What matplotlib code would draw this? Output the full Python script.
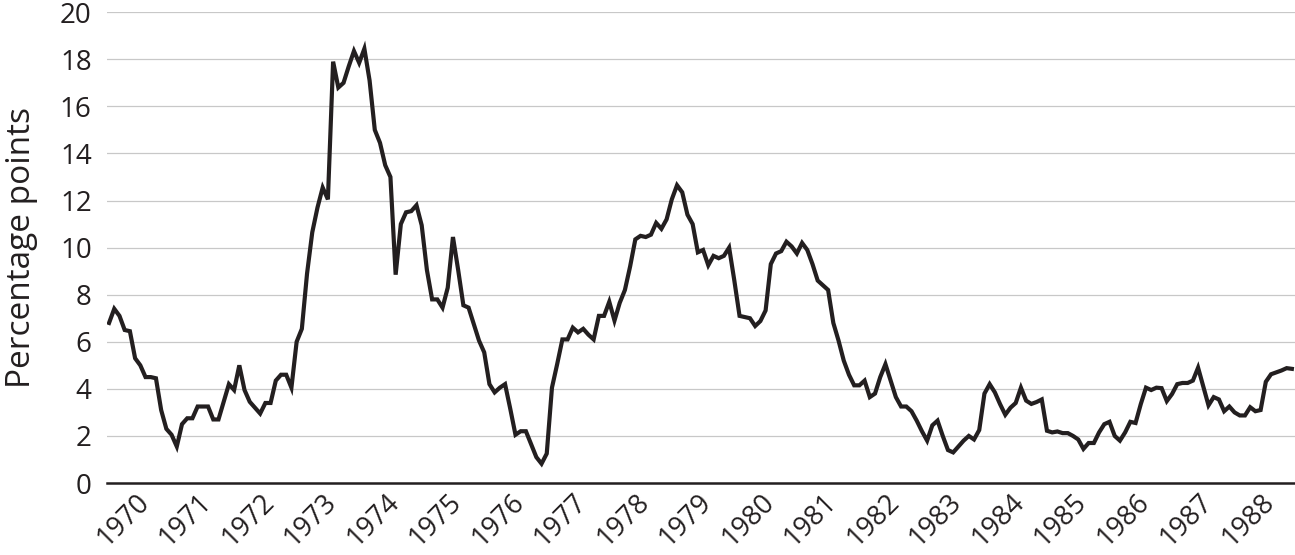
import matplotlib
matplotlib.use('Agg')
import matplotlib.pyplot as plt
import numpy as np

# Datos mensuales (enero 1970 - diciembre 1988)
start_year = 1970
values = [
    6.8, 7.4, 7.1, 6.5, 6.45, 5.3, 5.0, 4.5, 4.5, 4.45, 3.1, 2.3,          # 1970
    2.05, 1.55, 2.5, 2.75, 2.75, 3.25, 3.25, 3.25, 2.7, 2.7, 3.45, 4.2,    # 1971
    3.95, 5.0, 3.95, 3.45, 3.2, 2.95, 3.4, 3.4, 4.35, 4.6, 4.6, 4.05,      # 1972
    6.0, 6.55, 8.9, 10.65, 11.7, 12.55, 12.05, 17.9, 16.8, 17.0, 17.7, 18.35,  # 1973
    17.85, 18.45, 17.1, 15.0, 14.45, 13.5, 13.0, 8.85, 11.0, 11.5, 11.55, 11.8,  # 1974
    10.95, 9.05, 7.8, 7.8, 7.45, 8.3, 10.45, 9.05, 7.55, 7.45, 6.75, 6.05,  # 1975
    5.55, 4.2, 3.85, 4.05, 4.2, 3.15, 2.05, 2.2, 2.2, 1.65, 1.1, 0.82,     # 1976
    1.25, 4.05, 5.05, 6.1, 6.1, 6.6, 6.4, 6.55, 6.3, 6.1, 7.1, 7.1,        # 1977
    7.7, 6.9, 7.65, 8.2, 9.2, 10.35, 10.5, 10.45, 10.55, 11.05, 10.8, 11.2,  # 1978
    12.05, 12.65, 12.35, 11.4, 11.0, 9.8, 9.9, 9.25, 9.65, 9.55, 9.65, 10.0,  # 1979
    8.6, 7.1, 7.05, 7.0, 6.67, 6.88, 7.33, 9.3, 9.75, 9.85, 10.25, 10.05,  # 1980
    9.75, 10.2, 9.9, 9.3, 8.6, 8.4, 8.2, 6.8, 6.05, 5.2, 4.6, 4.15,        # 1981
    4.15, 4.35, 3.65, 3.8, 4.5, 5.05, 4.35, 3.65, 3.25, 3.25, 3.05, 2.65,  # 1982
    2.2, 1.8, 2.45, 2.65, 2.0, 1.4, 1.3, 1.55, 1.8, 2.0, 1.85, 2.25,       # 1983
    3.8, 4.2, 3.85, 3.35, 2.9, 3.2, 3.4, 4.05, 3.5, 3.36, 3.44, 3.55,      # 1984
    2.22, 2.15, 2.19, 2.12, 2.12, 2.0, 1.85, 1.45, 1.7, 1.7, 2.15, 2.5,    # 1985
    2.6, 2.0, 1.8, 2.15, 2.6, 2.55, 3.35, 4.05, 3.95, 4.05, 4.03, 3.48,    # 1986
    3.78, 4.2, 4.25, 4.25, 4.35, 4.9, 4.1, 3.3, 3.65, 3.55, 3.05, 3.25,    # 1987
    3.0, 2.87, 2.87, 3.22, 3.05, 3.1, 4.3, 4.62, 4.7, 4.78, 4.88, 4.85,    # 1988
]
year_labels = [str(y) for y in range(1970, 1989)]
y_ticks = list(range(0, 21, 2))

plt.rcParams['font.family'] = ['Open Sans', 'DejaVu Sans']
text_color = '#231f20'

fig = plt.figure(figsize=(12.95, 5.55), dpi=100)
ax = fig.add_axes([0.0826, 0.1297, 0.9174, 0.8483])

x = np.arange(len(values))
ax.plot(x, values, color=text_color, linewidth=3.0, solid_joinstyle='miter')

ax.set_ylim(0, 20)
ax.set_xlim(-0.4, len(values) - 0.4)
ax.set_yticks(y_ticks)
ax.set_yticklabels([str(v) for v in y_ticks], fontsize=20, color=text_color)
ax.grid(axis='y', color='#c8c8c8', linewidth=0.9)
ax.set_axisbelow(True)

# etiquetas de años giradas 45 grados
ax.set_xticks([12 * k + 5 for k in range(len(year_labels))])
ax.set_xticklabels(year_labels, rotation=45, ha='right', va='top',
                   rotation_mode='anchor', fontsize=19.5, color=text_color)
ax.tick_params(axis='x', length=0, pad=4)
ax.tick_params(axis='y', length=0, pad=11)

for s in ['top', 'right', 'left']:
    ax.spines[s].set_visible(False)
ax.spines['bottom'].set_color(text_color)
ax.spines['bottom'].set_linewidth(1.8)
ax.spines['bottom'].set_zorder(3)

ax.set_ylabel('Percentage points', fontsize=24, color=text_color, labelpad=16)

fig.savefig('out.png', dpi=100)
plt.close(fig)
